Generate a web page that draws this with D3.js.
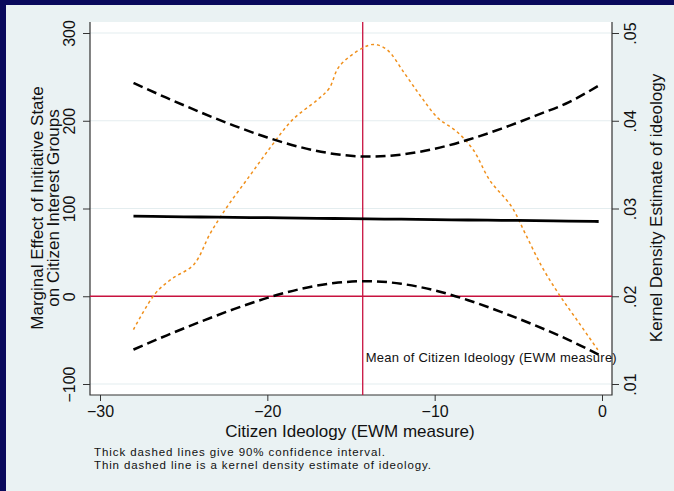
<!DOCTYPE html>
<html>
<head>
<meta charset="utf-8">
<script src="https://cdn.jsdelivr.net/npm/d3@7"></script>
<style>
  body { margin: 0; background: #eaf2f3; }
  text { font-family: "Liberation Sans", Arial, sans-serif; fill: #111; }
</style>
</head>
<body>
<div id="chart"></div>
<script>
// values
const ciX = [-28, -26, -24, -22, -20, -18, -16, -14, -12, -10, -8, -6, -4, -2, -0.2];
const effect = [91.2, 90.8, 90.3, 89.9, 89.5, 89.1, 88.6, 88.2, 87.8, 87.4, 86.9, 86.5, 86.2, 85.6, 85.2];
const upperCI = [243, 226, 209.7, 194.5, 180.9, 169.8, 162.2, 159.2, 161.4, 168.1, 178.3, 191.1, 205.6, 221, 240];
const lowerCI = [-60.8, -44.5, -29.1, -14.7, -1.9, 8.4, 15.0, 17.2, 14.2, 6.7, -4.5, -18.1, -33.2, -49.7, -66.5];

const densX = [-28, -26.7, -25.7, -24.4, -23.4, -22.4, -21.1, -19.8, -18.5, -17.0, -16.3, -15.7, -14.3, -13.6, -12.85,
               -11.8, -10.8, -9.8, -8.7, -7.7, -6.7, -5.4, -4.6, -3.6, -2.6, -1.5, -0.25];
const densY = [.0162, .0203, .0220, .0236, .0272, .0302, .0336, .0370, .0401, .0424, .0437, .0462, .0483, .0487, .0481,
               .0454, .0427, .0403, .0388, .0367, .0332, .0302, .0272, .0234, .0203, .0173, .0139];

const meanIdeology = -14.3;
const xTicks = [-30, -20, -10, 0];
const yTicks = [-100, 0, 100, 200, 300];
const densTicks = [.01, .02, .03, .04, .05];
const densTickLabels = [".01", ".02", ".03", ".04", ".05"];

const width = 674, height = 491;
const plot = {left: 90, right: 612, top: 22, bottom: 395};

const svg = d3.select("#chart").append("svg")
    .attr("width", width)
    .attr("height", height);

// background + navy frame
svg.append("rect").attr("width", width).attr("height", height).attr("fill", "#0a0a5c");
svg.append("rect").attr("x", 6).attr("y", 5).attr("width", width - 6).attr("height", height - 5).attr("fill", "#eaf2f3");
svg.append("rect")
    .attr("x", plot.left).attr("y", plot.top)
    .attr("width", plot.right - plot.left).attr("height", plot.bottom - plot.top)
    .attr("fill", "#fff");

let x = d3.scaleLinear().domain([-30, 0]).range([100, 602]);
let y = d3.scaleLinear().domain([-100, 300]).range([384, 33]);
let yDens = d3.scaleLinear().domain([.01, .05]).range([384, 33]);

// grid lines
svg.append("g")
    .selectAll("line")
    .data(yTicks.filter(d => d !== 0))
    .enter().append("line")
    .attr("x1", plot.left).attr("x2", plot.right)
    .attr("y1", d => y(d)).attr("y2", d => y(d))
    .attr("stroke", "#e4edef")
    .attr("stroke-width", 1.2);

// left axis
let yAxis = svg.append("g")
    .attr("transform", `translate(${plot.left},0)`)
    .call(d3.axisLeft(y).tickValues(yTicks).tickSize(7).tickPadding(0));
yAxis.select(".domain").remove();
yAxis.selectAll("text")
    .attr("x", 0).attr("y", 0).attr("dy", null)
    .attr("transform", `translate(${75 - plot.left},0) rotate(-90)`)
    .style("text-anchor", "middle")
    .style("font-size", "16px");

// right axis
let rAxis = svg.append("g")
    .attr("transform", `translate(${plot.right},0)`)
    .call(d3.axisRight(yDens).tickValues(densTicks).tickSize(7).tickPadding(0)
        .tickFormat((d, i) => densTickLabels[i]));
rAxis.select(".domain").remove();
rAxis.selectAll("text")
    .attr("x", 0).attr("y", 0).attr("dy", null)
    .attr("transform", `translate(${636 - plot.right},0) rotate(-90)`)
    .style("text-anchor", "middle")
    .style("font-size", "16px");

// bottom axis
let xAxis = svg.append("g")
    .attr("transform", `translate(0,${plot.bottom})`)
    .call(d3.axisBottom(x).tickValues(xTicks).tickSize(6).tickPadding(0));
xAxis.select(".domain").remove();
xAxis.selectAll("text")
    .attr("dy", null)
    .attr("y", 22)
    .style("font-size", "16px");

svg.selectAll(".tick line").attr("stroke", "#333");

// axis lines
svg.append("path")
    .attr("d", `M${plot.left},${plot.top}V${plot.bottom}H${plot.right}V${plot.top}`)
    .attr("fill", "none")
    .attr("stroke", "#333")
    .attr("stroke-width", 1.2);

// reference lines
svg.append("line")
    .attr("x1", plot.left).attr("x2", plot.right)
    .attr("y1", y(0)).attr("y2", y(0))
    .attr("stroke", "#c8123f").attr("stroke-width", 1.3);
svg.append("line")
    .attr("x1", x(meanIdeology)).attr("x2", x(meanIdeology))
    .attr("y1", plot.top).attr("y2", plot.bottom)
    .attr("stroke", "#c8123f").attr("stroke-width", 1.3);

// kernel density
const densLine = d3.line()
    .x((d, i) => x(densX[i]))
    .y(d => yDens(d))
    .curve(d3.curveCatmullRom);
svg.append("path")
    .datum(densY)
    .attr("d", densLine)
    .attr("fill", "none")
    .attr("stroke", "#f0901c")
    .attr("stroke-width", 1.5)
    .attr("stroke-dasharray", "3,3");

// marginal effect and CI
const ciLine = d3.line()
    .x((d, i) => x(ciX[i]))
    .y(d => y(d))
    .curve(d3.curveMonotoneX);
[upperCI, lowerCI].forEach(function(s) {
    svg.append("path")
        .datum(s)
        .attr("d", ciLine)
        .attr("fill", "none")
        .attr("stroke", "#000")
        .attr("stroke-width", 2.5)
        .attr("stroke-dasharray", "10,5");
});
svg.append("path")
    .datum(effect)
    .attr("d", ciLine)
    .attr("fill", "none")
    .attr("stroke", "#000")
    .attr("stroke-width", 2.8);

svg.append("text")
    .attr("x", x(meanIdeology) + 3)
    .attr("y", 362)
    .style("font-size", "13px")
    .attr("textLength", 251)
    .text("Mean of Citizen Ideology (EWM measure)");

// titles
svg.append("text")
    .attr("transform", `translate(${(plot.left + plot.right) / 2 - 1},437)`)
    .style("text-anchor", "middle")
    .style("font-size", "17px")
    .text("Citizen Ideology (EWM measure)");

svg.append("text")
    .attr("transform", "translate(43,208) rotate(-90)")
    .style("text-anchor", "middle")
    .style("font-size", "17px")
    .text("Marginal Effect of Initiative State");
svg.append("text")
    .attr("transform", "translate(59,208) rotate(-90)")
    .style("text-anchor", "middle")
    .style("font-size", "17px")
    .text("on Citizen Interest Groups");

svg.append("text")
    .attr("transform", "translate(662,208) rotate(-90)")
    .style("text-anchor", "middle")
    .style("font-size", "17px")
    .text("Kernel Density Estimate of ideology");

// notes
svg.append("text").attr("x", 94).attr("y", 456)
    .style("font-size", "11.5px")
    .attr("textLength", 291)
    .text("Thick dashed lines give 90% confidence interval.");
svg.append("text").attr("x", 94).attr("y", 469)
    .style("font-size", "11.5px")
    .attr("textLength", 337)
    .text("Thin dashed line is a kernel density estimate of ideology.");
</script>
</body>
</html>
